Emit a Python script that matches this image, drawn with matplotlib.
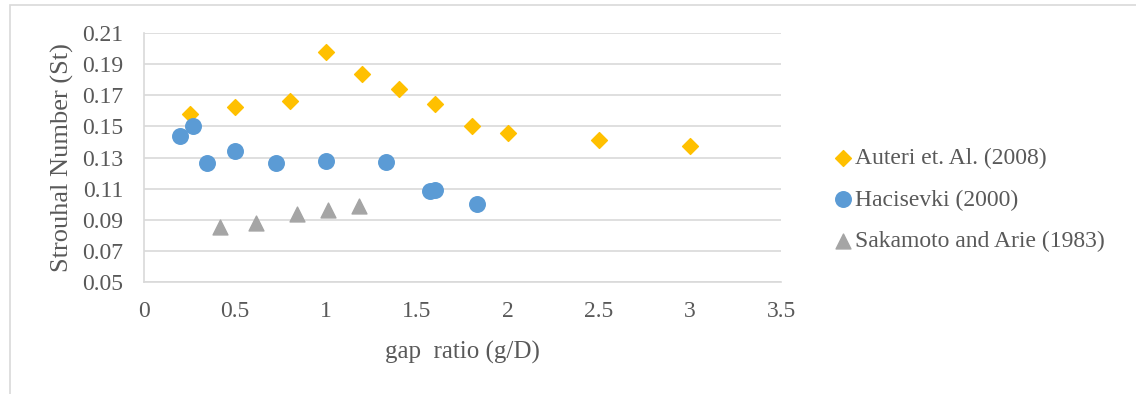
import matplotlib.pyplot as plt
from matplotlib.patches import Rectangle

plt.rcParams['font.family'] = ['Liberation Serif', 'DejaVu Serif']

# Auteri et. Al. (2008)
auteri_x = [0.25, 0.5, 0.8, 1.0, 1.2, 1.4, 1.6, 1.8, 2.0, 2.5, 3.0]
auteri_st = [0.158, 0.1625, 0.1665, 0.1978, 0.1836, 0.1742, 0.1645, 0.1505, 0.1458, 0.1412, 0.1375]

# Hacisevki (2000)
haci_x = [0.198, 0.27, 0.346, 0.5, 0.725, 1.0, 1.33, 1.57, 1.60, 1.83]
haci_st = [0.1438, 0.1502, 0.1265, 0.1343, 0.1265, 0.1278, 0.1272, 0.1085, 0.1092, 0.1000]

# Sakamoto and Arie (1983)
saka_x = [0.42, 0.615, 0.84, 1.01, 1.18]
saka_st = [0.0852, 0.0880, 0.0940, 0.0960, 0.0990]

text_col = '#595959'
grid_col = '#D9D9D9'

fig = plt.figure(figsize=(11.36, 3.94), dpi=100)
# chart border like the Excel chart area
fig.patches.append(Rectangle((10 / 1136, -0.1), 1.2, 1.1 - 5 / 394, transform=fig.transFigure,
                             fill=False, edgecolor='#D9D9D9', linewidth=1.2))

ax = fig.add_axes([144 / 1136, 1 - 282 / 394, (781 - 144) / 1136, (282 - 33) / 394])

ax.scatter(auteri_x, auteri_st, marker='D', s=65, color='#FFC000', label='Auteri et. Al. (2008)', zorder=3)
ax.scatter(haci_x, haci_st, marker='o', s=125, color='#5B9BD5', label='Hacisevki (2000)', zorder=3)
ax.scatter(saka_x, saka_st, marker='^', s=115, color='#A5A5A5', label='Sakamoto and Arie (1983)', zorder=3)

ax.set_xlim(0, 3.5)
ax.set_ylim(0.05, 0.21)
ax.set_xticks([0, 0.5, 1, 1.5, 2, 2.5, 3, 3.5])
ax.set_xticklabels(['0', '0.5', '1', '1.5', '2', '2.5', '3', '3.5'])
ax.set_yticks([0.05, 0.07, 0.09, 0.11, 0.13, 0.15, 0.17, 0.19, 0.21])
ax.set_yticklabels(['0.05', '0.07', '0.09', '0.11', '0.13', '0.15', '0.17', '0.19', '0.21'])
ax.grid(axis='y', color=grid_col, linewidth=1.2)
ax.set_axisbelow(True)
for s in ['top', 'right']:
    ax.spines[s].set_visible(False)
ax.spines['left'].set_color(grid_col)
ax.spines['bottom'].set_color(grid_col)
ax.spines['left'].set_linewidth(1.2)
ax.spines['bottom'].set_linewidth(1.2)
ax.tick_params(length=0, labelsize=17, labelcolor=text_col)
ax.tick_params(axis='y', pad=15)
ax.tick_params(axis='x', pad=14)

ax.set_xlabel('gap  ratio (g/D)', fontsize=18, color=text_col, labelpad=13)
ax.set_ylabel('Strouhal Number (St)', fontsize=19, color=text_col, labelpad=6)

ax.legend(loc='center left', bbox_to_anchor=(1.042, 0.33), frameon=False, fontsize=17,
          labelcolor=text_col, handletextpad=-0.5, labelspacing=0.85, markerscale=1.0,
          borderpad=0)

fig.savefig('out.png', dpi=100)
